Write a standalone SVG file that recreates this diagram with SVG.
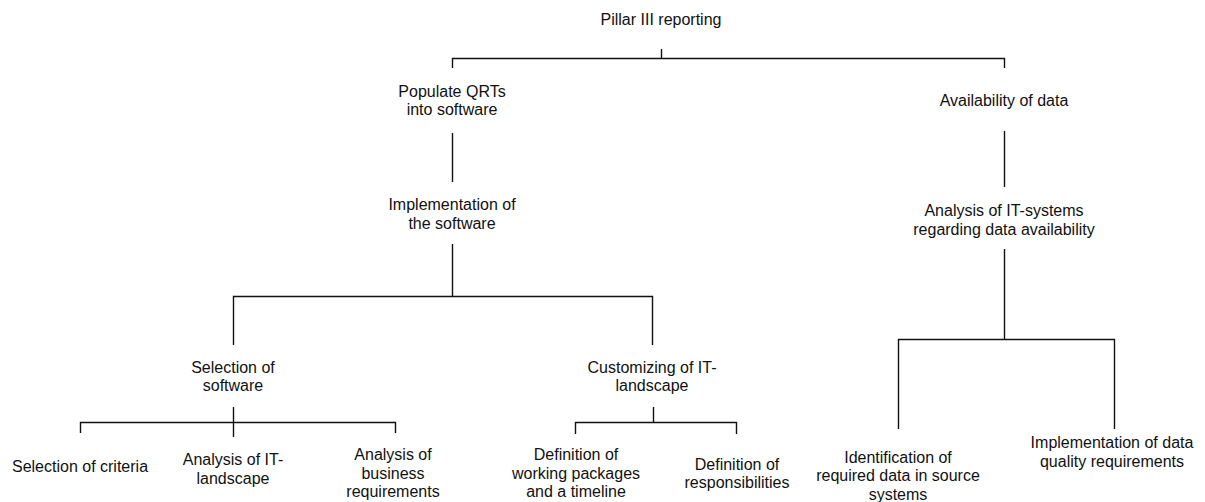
<svg xmlns="http://www.w3.org/2000/svg" width="1205" height="502" viewBox="0 0 1205 502">
  <style>
    text { font-family: "Liberation Sans", Arial, sans-serif; font-size: 16px; fill: #111; text-anchor: middle; }
    .link { fill: none; stroke: #111; stroke-width: 1.4; }
  </style>
  <rect width="1205" height="502" fill="#fff"/>

  <!-- tree connectors -->
  <g id="connectors">
    <path class="link" d="M661.5 49 V58.5 M452.5 68 V58.5 H1004.5 V68"/>
    <path class="link" d="M452.5 133 V182"/>
    <path class="link" d="M452.5 244 V296.5 M233.5 345 V296.5 H652.5 V345"/>
    <path class="link" d="M233.5 407 V437 M80.5 433 V422.5 H395.5 V433"/>
    <path class="link" d="M653.5 407 V422.5 M575.5 434 V422.5 H736.5 V434"/>
    <path class="link" d="M1004.5 131 V187"/>
    <path class="link" d="M1004.5 249 V339.5 M898.5 429 V339.5 H1114.5 V429"/>
  </g>

  <g id="pillar-iii-reporting"><text x="661" y="25">Pillar III reporting</text></g>

  <g id="populate-qrts">
    <text x="452" y="96.5">Populate QRTs</text>
    <text x="452" y="115">into software</text>
  </g>

  <g id="implementation-software">
    <text x="452" y="210">Implementation of</text>
    <text x="452" y="228.5">the software</text>
  </g>

  <g id="selection-software">
    <text x="233" y="372.5">Selection of</text>
    <text x="233" y="391">software</text>
  </g>

  <g id="customizing-landscape">
    <text x="652" y="372.5">Customizing of IT-</text>
    <text x="652" y="391">landscape</text>
  </g>

  <g id="selection-criteria"><text x="80" y="472">Selection of criteria</text></g>

  <g id="analysis-it-landscape">
    <text x="233" y="465">Analysis of IT-</text>
    <text x="233" y="483.5">landscape</text>
  </g>

  <g id="analysis-business">
    <text x="393" y="460">Analysis of</text>
    <text x="393" y="478.5">business</text>
    <text x="393" y="497">requirements</text>
  </g>

  <g id="definition-packages">
    <text x="576" y="460">Definition of</text>
    <text x="576" y="478.5">working packages</text>
    <text x="576" y="497">and a timeline</text>
  </g>

  <g id="definition-responsibilities">
    <text x="737" y="469.5">Definition of</text>
    <text x="737" y="488">responsibilities</text>
  </g>

  <g id="availability-data"><text x="1004" y="105.5">Availability of data</text></g>

  <g id="analysis-it-systems">
    <text x="1004" y="216">Analysis of IT-systems</text>
    <text x="1004" y="234.5">regarding data availability</text>
  </g>

  <g id="identification-data">
    <text x="898" y="462.5">Identification of</text>
    <text x="898" y="481">required data in source</text>
    <text x="898" y="499.5">systems</text>
  </g>

  <g id="implementation-quality">
    <text x="1112" y="448">Implementation of data</text>
    <text x="1112" y="466.5">quality requirements</text>
  </g>
</svg>
